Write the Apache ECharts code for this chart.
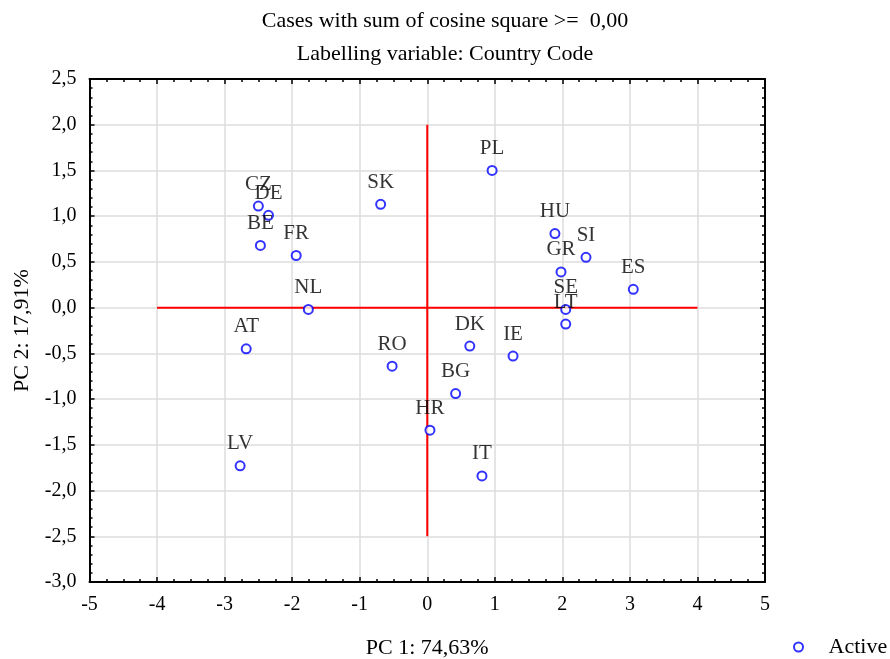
<!DOCTYPE html>
<html>
<head>
<meta charset="utf-8">
<script src="https://cdn.jsdelivr.net/npm/echarts@6/dist/echarts.min.js"></script>
<style>html,body{margin:0;padding:0;background:#fff}#c{width:890px;height:659px}</style>
</head>
<body>
<div id="c"></div>
<script>
const countries = ['PL','SK','CZ','DE','BE','FR','NL','AT','RO','LV','HR','BG','DK','IE','IT','HU','SI','GR','ES','SE','LT'];
const pc1 = [0.96,-0.69,-2.50,-2.35,-2.47,-1.94,-1.76,-2.68,-0.52,-2.77,0.04,0.42,0.63,1.27,0.81,1.89,2.35,1.98,3.05,2.05,2.05];
const pc2 = [1.50,1.13,1.11,1.01,0.68,0.57,-0.02,-0.45,-0.64,-1.73,-1.34,-0.94,-0.42,-0.53,-1.84,0.81,0.55,0.39,0.20,-0.02,-0.18];
const hLine = [[-4,0],[4,0]];
const vLine = [[0,-2.5],[0,2.0]];
const titleLine1 = 'Cases with sum of cosine square >=  0,00';
const titleLine2 = 'Labelling variable: Country Code';
const xName = 'PC 1: 74,63%';
const yName = 'PC 2: 17,91%';
const legendName = 'Active';

const FONT = '"Liberation Serif", "DejaVu Serif", serif';
const chart = echarts.init(document.getElementById('c'), null, {renderer:'canvas'});
const pts = countries.map((c,i)=>({value:[pc1[i],pc2[i]], name:c}));
const fmtY = v => v.toFixed(1).replace('.', ',');
const baseX = {
  type:'value', min:-5, max:5, interval:1,
  axisLine:{show:true, onZero:false, lineStyle:{color:'#000', width:2}},
  axisTick:{show:true, inside:true, length:5, lineStyle:{color:'#000', width:1.5}},
  minorTick:{show:true, splitNumber:4, length:3, lineStyle:{color:'#000', width:1.5}},
  splitLine:{show:false},
};
const baseY = {
  type:'value', min:-3, max:2.5, interval:0.5,
  axisLine:{show:true, onZero:false, lineStyle:{color:'#000', width:2}},
  axisTick:{show:true, inside:true, length:5, lineStyle:{color:'#000', width:1.5}},
  minorTick:{show:true, splitNumber:5, length:3, lineStyle:{color:'#000', width:1.5}},
  splitLine:{show:false},
};
chart.setOption({
  backgroundColor:'#fff',
  animation:false,
  title:[
    {text:titleLine1, left:'center', top:5, textStyle:{fontFamily:FONT, fontSize:22, fontWeight:'normal', color:'#000'}},
    {text:titleLine2, left:'center', top:38, textStyle:{fontFamily:FONT, fontSize:22, fontWeight:'normal', color:'#000'}}
  ],
  legend:{
    left:788, top:631, itemWidth:50, itemHeight:9, itemGap:10, symbolKeepAspect:true,
    data:[{name:legendName, icon:'circle'}],
    textStyle:{fontFamily:FONT, fontSize:22, color:'#000'}
  },
  grid:{left:89.5, right:125, top:79, bottom:77, containLabel:false, outerBoundsMode:'none'},
  xAxis:[
    Object.assign({}, baseX, {
      position:'bottom',
      name:xName, nameLocation:'middle', nameGap:55,
      nameTextStyle:{fontFamily:FONT, fontSize:22, color:'#000'},
      axisLabel:{fontFamily:FONT, fontSize:20, color:'#000', margin:13},
      splitLine:{show:true, lineStyle:{color:'#dcdcdc', width:1.5}}
    }),
    Object.assign({}, baseX, {position:'top', axisLabel:{show:false}})
  ],
  yAxis:[
    Object.assign({}, baseY, {
      position:'left',
      name:yName, nameLocation:'middle', nameGap:56,
      nameTextStyle:{fontFamily:FONT, fontSize:22, color:'#000'},
      axisLabel:{fontFamily:FONT, fontSize:20, color:'#000', margin:13, formatter:fmtY},
      splitLine:{show:true, lineStyle:{color:'#dcdcdc', width:1.5}}
    }),
    Object.assign({}, baseY, {position:'right', axisLabel:{show:false}})
  ],
  series:[
    {type:'line', data:hLine, symbol:'none', silent:true, lineStyle:{color:'#ff0000', width:2}, z:3},
    {type:'line', data:vLine, symbol:'none', silent:true, lineStyle:{color:'#ff0000', width:2}, z:3},
    {
      name:legendName, type:'scatter', data:pts, symbol:'circle', symbolSize:9, z:5,
      itemStyle:{color:'#fff', borderColor:'#0000ff', borderWidth:2},
      label:{show:true, position:'top', distance:6, formatter:p=>p.name,
        fontFamily:FONT, fontSize:21, color:'#000'}
    }
  ]
});
</script>
</body>
</html>
